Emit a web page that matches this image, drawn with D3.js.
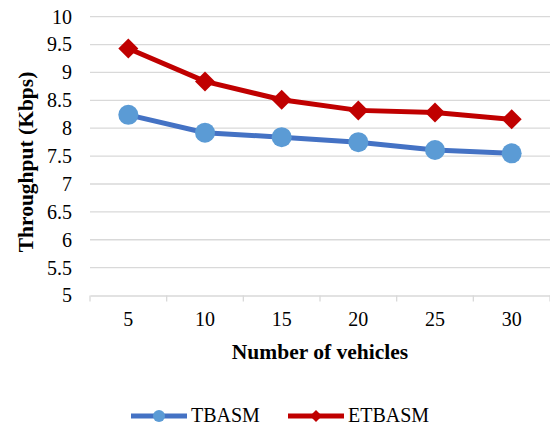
<!DOCTYPE html>
<html><head><meta charset="utf-8">
<script src="https://cdn.jsdelivr.net/npm/d3@7"></script>
<style>body{margin:0;background:#fff}svg{display:block}</style>
</head><body><div id="chart"></div>
<script>
const categories = ["5","10","15","20","25","30"];
const tbasm = [8.24, 7.92, 7.84, 7.75, 7.61, 7.55];
const etbasm = [9.43, 8.84, 8.51, 8.32, 8.28, 8.16];
const yTicks = [5,5.5,6,6.5,7,7.5,8,8.5,9,9.5,10];
const seriesNames = ["TBASM","ETBASM"];

const W=550,H=425;
const svg=d3.select("#chart").append("svg").attr("width",W).attr("height",H);
const font="'Liberation Serif','Times New Roman',serif";
const x=d3.scaleBand().domain(categories).range([90,550]);
const y=d3.scaleLinear().domain([5,10]).range([295.5,16.7]);

// gridlines
svg.append("g").selectAll("line").data(yTicks.slice(1)).join("line")
 .attr("x1",90).attr("x2",550).attr("y1",d=>y(d)).attr("y2",d=>y(d))
 .attr("stroke","#d9d9d9").attr("stroke-width",1.3);

// x axis
const xa=svg.append("g").attr("transform",`translate(0,${y(5)})`)
 .call(d3.axisBottom(x).tickSize(0).tickPadding(16));
xa.select(".domain").attr("stroke","#d9d9d9").attr("stroke-width",1.3);
xa.selectAll("text").attr("font-family",font).attr("font-size",20).attr("fill","#000");
const bounds=categories.map(c=>x(c)).concat([550]);
xa.selectAll(".sep").data(bounds).join("line").attr("class","sep")
 .attr("x1",d=>d).attr("x2",d=>d).attr("y1",0).attr("y2",6)
 .attr("stroke","#d9d9d9").attr("stroke-width",1.3);

// y axis labels
const ya=svg.append("g").attr("transform","translate(90,0)")
 .call(d3.axisLeft(y).tickValues(yTicks).tickSize(0).tickPadding(18).tickFormat(d3.format("")));
ya.select(".domain").remove();
ya.selectAll("text").attr("font-family",font).attr("font-size",20).attr("fill","#000");

// titles
svg.append("text").attr("x",320).attr("y",359).attr("text-anchor","middle")
 .attr("font-family",font).attr("font-size",21.5).attr("font-weight","bold").text("Number of vehicles");
svg.append("text").attr("transform","translate(33,162) rotate(-90)").attr("text-anchor","middle")
 .attr("font-family",font).attr("font-size",21.5).attr("font-weight","bold").text("Throughput (Kbps)");

const cx=c=>x(c)+x.bandwidth()/2;
const line=d3.line().x((d,i)=>cx(categories[i])).y(d=>y(d));

svg.append("path").datum(tbasm).attr("d",line).attr("fill","none").attr("stroke","#4472C4").attr("stroke-width",5);
svg.append("path").datum(etbasm).attr("d",line).attr("fill","none").attr("stroke","#C00000").attr("stroke-width",5);

svg.append("g").selectAll("circle").data(tbasm).join("circle")
 .attr("cx",(d,i)=>cx(categories[i])).attr("cy",d=>y(d)).attr("r",10).attr("fill","#5B9BD5");
const diamond=s=>`M0,${-s}L${s},0L0,${s}L${-s},0Z`;
svg.append("g").selectAll("path").data(etbasm).join("path")
 .attr("transform",(d,i)=>`translate(${cx(categories[i])},${y(d)})`).attr("d",diamond(10)).attr("fill","#C00000");

// legend
const lg=[{x0:131,name:seriesNames[0],stroke:"#4472C4",fill:"#5B9BD5",shape:"c"},
          {x0:288,name:seriesNames[1],stroke:"#C00000",fill:"#C00000",shape:"d"}];
const ly=416;
lg.forEach(l=>{
 svg.append("line").attr("x1",l.x0).attr("x2",l.x0+56).attr("y1",ly).attr("y2",ly).attr("stroke",l.stroke).attr("stroke-width",5);
 if(l.shape==="c") svg.append("circle").attr("cx",l.x0+28).attr("cy",ly).attr("r",6).attr("fill",l.fill);
 else svg.append("path").attr("transform",`translate(${l.x0+28},${ly})`).attr("d",diamond(6)).attr("fill",l.fill);
 svg.append("text").attr("x",l.x0+60).attr("y",ly+6).attr("font-family",font).attr("font-size",20).text(l.name);
});
</script></body></html>
